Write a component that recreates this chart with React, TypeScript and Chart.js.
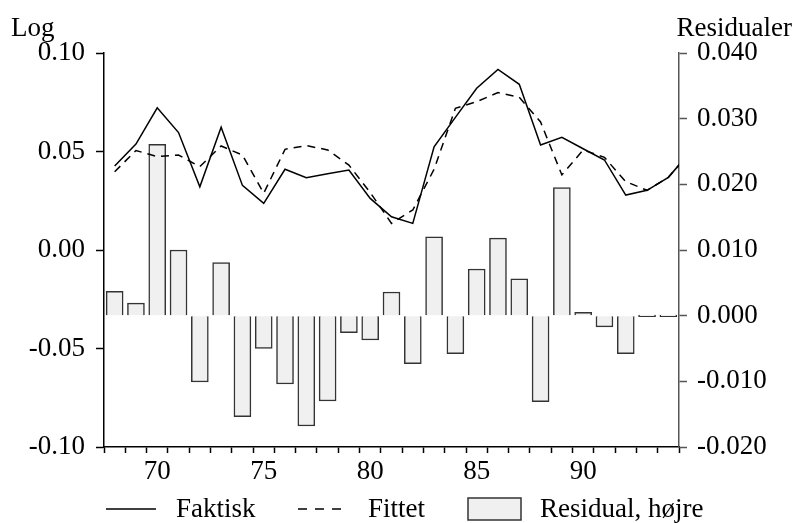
import { useEffect, useRef } from 'react';
import { Chart, registerables } from 'chart.js';

Chart.register(...registerables);

// ---- data ----
const lineYears = [68, 69, 70, 71, 72, 73, 74, 75, 76, 77, 78, 79, 80, 81, 82, 83, 84, 85, 86, 87, 88, 89, 90, 91, 92, 93, 94, 95];
const faktisk = [0.0426, 0.0538, 0.0722, 0.0596, 0.0321, 0.0623, 0.0328, 0.0237, 0.0410, 0.0367, 0.0387, 0.0406, 0.0262, 0.0169, 0.0135, 0.0524, 0.0673, 0.0821, 0.0917, 0.0841, 0.0533, 0.0572, 0.0514, 0.0457, 0.0279, 0.0303, 0.0369, 0.0494];
const fittet = [0.0397, 0.0505, 0.0474, 0.0482, 0.0423, 0.0528, 0.0482, 0.0288, 0.0511, 0.0530, 0.0508, 0.0431, 0.0292, 0.0135, 0.0203, 0.0410, 0.0719, 0.0753, 0.0799, 0.0775, 0.0650, 0.0381, 0.0508, 0.0470, 0.0347, 0.0303, 0.0369, 0.0494];
const residualYears = [68, 69, 70, 71, 72, 73, 74, 75, 76, 77, 78, 79, 80, 81, 82, 83, 84, 85, 86, 87, 88, 89, 90, 91, 92, 93, 94];
const residual = [0.0037, 0.0019, 0.0261, 0.0100, -0.0101, 0.0081, -0.0154, -0.0050, -0.0104, -0.0168, -0.0130, -0.0026, -0.0037, 0.0036, -0.0073, 0.0120, -0.0058, 0.0071, 0.0118, 0.0056, -0.0131, 0.0195, 0.0005, -0.0017, -0.0058, 0, 0];
const xTickLabels = [70, 75, 80, 85, 90];
const leftTicks = [-0.1, -0.05, 0, 0.05, 0.1];
const rightTicks = [-0.02, -0.01, 0, 0.01, 0.02, 0.03, 0.04];
const leftTitle = 'Log';
const rightTitle = 'Residualer';
const seriesLabels = ['Faktisk', 'Fittet', 'Residual, højre'];

const FONT = "'Liberation Serif', 'Times New Roman', serif";
const FS = 27;

const fmt = (v: number, d: number) => (Math.abs(v) < 1e-9 ? 0 : v).toFixed(d);

const decorPlugin = {
  id: 'decor',
  afterDraw(chart: any) {
    const ctx = chart.ctx as CanvasRenderingContext2D;
    ctx.save();
    ctx.font = `${FS}px ${FONT}`;
    ctx.fillStyle = '#000';
    ctx.textBaseline = 'alphabetic';
    ctx.textAlign = 'left';
    ctx.fillText(leftTitle, 11, 36);
    ctx.textAlign = 'right';
    ctx.fillText(rightTitle, 792, 36);

    // legend
    const ly = 509;
    const symX = [106, 298, 468];
    const order = [1, 2, 0]; // dataset indices: Faktisk, Fittet, Residual
    ctx.textAlign = 'left';
    ctx.textBaseline = 'middle';
    order.forEach((di, i) => {
      const ds = chart.data.datasets[di];
      const x0 = symX[i];
      if (ds.type === 'line') {
        ctx.save();
        ctx.strokeStyle = ds.borderColor;
        ctx.lineWidth = 1.5;
        ctx.setLineDash(ds.borderDash ? [9, 8] : []);
        ctx.beginPath();
        ctx.moveTo(x0, ly);
        ctx.lineTo(x0 + 50, ly);
        ctx.stroke();
        ctx.restore();
        ctx.fillText(ds.label, x0 + 70, ly + 1);
      } else {
        ctx.save();
        ctx.fillStyle = ds.backgroundColor;
        ctx.fillRect(x0, ly - 11, 53, 22);
        ctx.strokeStyle = ds.borderColor;
        ctx.lineWidth = 1.5;
        ctx.strokeRect(x0, ly - 11, 53, 22);
        ctx.restore();
        ctx.fillText(ds.label, x0 + 72, ly + 1);
      }
    });
    ctx.restore();
  },
};

export default function App() {
  const ref = useRef<HTMLCanvasElement | null>(null);

  useEffect(() => {
    if (!ref.current) return;
    const xTicks: number[] = [];
    for (let v = 67.5; v <= 94.5 + 1e-9; v += 1) xTicks.push(v);
    xTickLabels.forEach((v) => xTicks.push(v));
    xTicks.sort((a, b) => a - b);

    const tickFont = { family: FONT, size: FS };

    const chart = new Chart(ref.current, {
      type: 'bar',
      data: {
        datasets: [
          {
            type: 'bar',
            label: seriesLabels[2],
            data: residualYears.map((x, i) => ({ x, y: residual[i] })),
            yAxisID: 'y2',
            backgroundColor: '#f0f0f0',
            borderColor: '#333333',
            borderWidth: 1.5,
            barThickness: 17,
            minBarLength: 2,
            order: 2,
          } as any,
          {
            type: 'line',
            label: seriesLabels[0],
            data: lineYears.map((x, i) => ({ x, y: faktisk[i] })),
            yAxisID: 'y',
            borderColor: '#000000',
            borderWidth: 1.5,
            pointRadius: 0,
            tension: 0,
            fill: false,
            order: 0,
          } as any,
          {
            type: 'line',
            label: seriesLabels[1],
            data: lineYears.map((x, i) => ({ x, y: fittet[i] })),
            yAxisID: 'y',
            borderColor: '#000000',
            borderWidth: 1.5,
            borderDash: [8, 6],
            pointRadius: 0,
            tension: 0,
            fill: false,
            order: 1,
          } as any,
        ],
      },
      options: {
        responsive: false,
        animation: false,
        devicePixelRatio: 1,
        layout: { padding: { top: 53, left: 0, right: 0, bottom: 0 } },
        plugins: {
          legend: { display: false },
          tooltip: { enabled: false },
          title: { display: false },
        },
        scales: {
          x: {
            type: 'linear',
            min: 67.5,
            max: 94.5,
            offset: false,
            afterBuildTicks: (s: any) => {
              s.ticks = xTicks.map((value) => ({ value }));
            },
            afterFit: (s: any) => {
              s.height = 76;
            },
            grid: {
              offset: false,
              drawOnChartArea: false,
              tickLength: 6,
              tickWidth: 1.5,
              tickColor: (c: any) => (c.tick && Math.abs(c.tick.value % 1) > 0.1 ? '#000' : 'rgba(0,0,0,0)'),
            },
            border: { display: true, color: '#000', width: 1.5 },
            ticks: {
              autoSkip: false,
              maxRotation: 0,
              minRotation: 0,
              padding: 3,
              color: '#000',
              font: tickFont,
              callback: (v: any) => (xTickLabels.includes(Number(v)) ? String(v) : ''),
            },
          } as any,
          y: {
            type: 'linear',
            position: 'left',
            min: -0.1,
            max: 0.1,
            afterBuildTicks: (s: any) => {
              s.ticks = leftTicks.map((value) => ({ value }));
            },
            afterFit: (s: any) => {
              s.width = 104;
            },
            grid: { drawOnChartArea: false, tickLength: 8, tickWidth: 1.5, tickColor: '#000' },
            border: { display: true, color: '#000', width: 1.5 },
            ticks: {
              padding: 11,
              color: '#000',
              font: tickFont,
              callback: (v: any) => fmt(Number(v), 2),
            },
          } as any,
          y2: {
            type: 'linear',
            position: 'right',
            min: -0.02,
            max: 0.04,
            afterBuildTicks: (s: any) => {
              s.ticks = rightTicks.map((value) => ({ value }));
            },
            afterFit: (s: any) => {
              s.width = 120;
            },
            grid: { drawOnChartArea: false, tickLength: 8, tickWidth: 1.5, tickColor: '#555' },
            border: { display: true, color: '#555', width: 1.5 },
            ticks: {
              padding: 10,
              color: '#000',
              font: tickFont,
              callback: (v: any) => fmt(Number(v), 3),
            },
          } as any,
        },
      },
      plugins: [decorPlugin],
    } as any);
    return () => chart.destroy();
  }, []);

  return (
    <div style={{ position: 'absolute', left: 0, top: 0, width: 799, height: 523, background: '#fff' }}>
      <canvas ref={ref} width={799} height={523} style={{ width: 799, height: 523, display: 'block' }} />
    </div>
  );
}
